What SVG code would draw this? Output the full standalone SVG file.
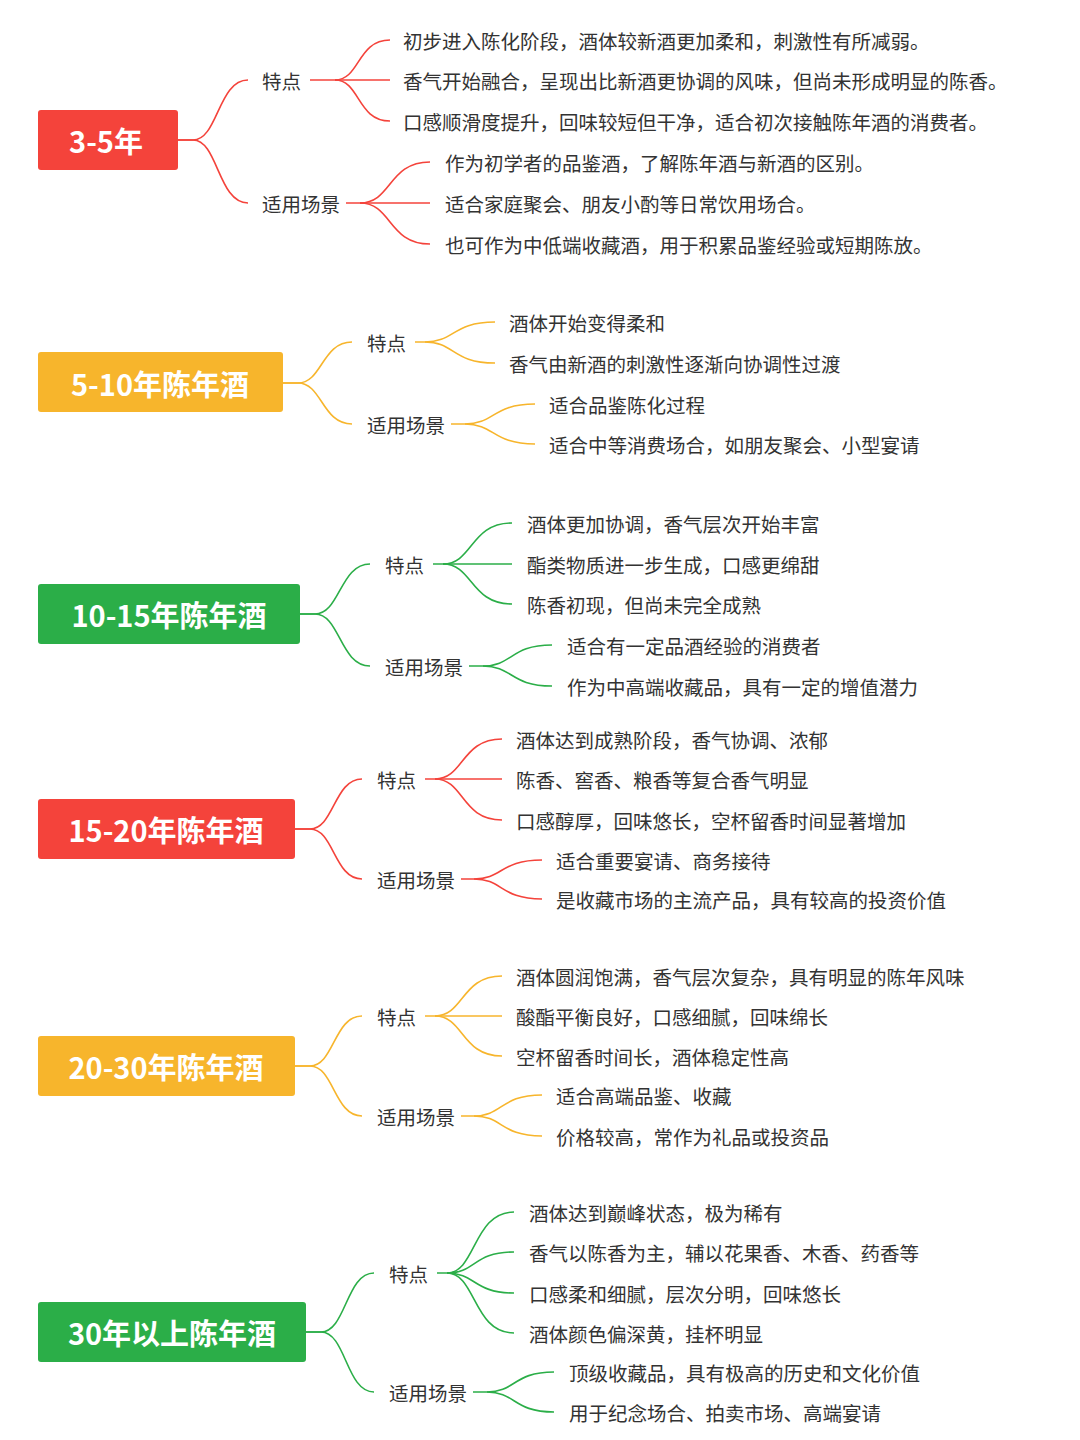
<svg xmlns="http://www.w3.org/2000/svg" width="1080" height="1440" viewBox="0 0 1080 1440">
<style>
text{font-family:"Noto Sans CJK SC","Noto Sans",sans-serif;dominant-baseline:central;fill:#333;font-size:19.5px}
.root{fill:#fff;font-size:29px;font-weight:bold;text-anchor:middle}
.red{stroke:#F4433B}.org{stroke:#F7B52C}.grn{stroke:#2BAE48}
path{fill:none;stroke-width:1.6}
</style>
<rect width="1080" height="1440" fill="#fff"/>
<g id="connectors">
<g class="red">
<path d="M178 140 H193 C218 140 218 80 248 80"/><path d="M178 140 H193 C218 140 218 203 248 203"/>
<path d="M310 80 H390"/><path d="M335 80 C360 80 357 40 390 40"/><path d="M335 80 C360 80 357 121 390 121"/>
<path d="M346 203 H430"/><path d="M360 203 C392 203 388 162 430 162"/><path d="M360 203 C392 203 388 244 430 244"/>
</g>
<g class="org">
<path d="M283 383 H298 C322 383 322 342 352 342"/><path d="M283 383 H298 C322 383 322 424 352 424"/>
<path d="M415 342 H425 C455 342 452 322 495 322"/><path d="M425 342 C455 342 452 363 495 363"/>
<path d="M451 424 H465 C495 424 492 404 535 404"/><path d="M465 424 C495 424 492 444 535 444"/>
</g>
<g class="grn">
<path d="M300 614 H315 C340 614 340 564 370 564"/><path d="M300 614 H315 C340 614 340 666 370 666"/>
<path d="M433 564 H512"/><path d="M443 564 C473 564 470 523 512 523"/><path d="M443 564 C473 564 470 604 512 604"/>
<path d="M469 666 H483 C513 666 510 645 552 645"/><path d="M483 666 C513 666 510 686 552 686"/>
</g>
<g class="red">
<path d="M295 829 H310 C334 829 334 779 362 779"/><path d="M295 829 H310 C334 829 334 879 362 879"/>
<path d="M425 779 H502"/><path d="M435 779 C464 779 461 739 502 739"/><path d="M435 779 C464 779 461 820 502 820"/>
<path d="M461 879 H474 C503 879 500 860 542 860"/><path d="M474 879 C503 879 500 899 542 899"/>
</g>
<g class="org">
<path d="M295 1066 H310 C334 1066 334 1016 362 1016"/><path d="M295 1066 H310 C334 1066 334 1116 362 1116"/>
<path d="M425 1016 H502"/><path d="M435 1016 C464 1016 461 976 502 976"/><path d="M435 1016 C464 1016 461 1056 502 1056"/>
<path d="M461 1116 H474 C503 1116 500 1095 542 1095"/><path d="M474 1116 C503 1116 500 1136 542 1136"/>
</g>
<g class="grn">
<path d="M306 1332 H321 C346 1332 346 1273 374 1273"/><path d="M306 1332 H321 C346 1332 346 1392 374 1392"/>
<path d="M437 1273 H447 C476 1273 473 1212 514 1212"/><path d="M447 1273 C476 1273 473 1252 514 1252"/><path d="M447 1273 C476 1273 473 1293 514 1293"/><path d="M447 1273 C476 1273 473 1333 514 1333"/>
<path d="M473 1392 H487 C516 1392 513 1372 554 1372"/><path d="M487 1392 C516 1392 513 1412 554 1412"/>
</g>
</g>
<g id="n1"><rect x="38" y="110" width="140" height="60" rx="3" fill="#F4433B"/><text class="root" x="106" y="140">3-5年</text>
<text x="262" y="80">特点</text><text x="262" y="203">适用场景</text>
<text x="403" y="40">初步进入陈化阶段，酒体较新酒更加柔和，刺激性有所减弱。</text>
<text x="403" y="80">香气开始融合，呈现出比新酒更协调的风味，但尚未形成明显的陈香。</text>
<text x="403" y="121">口感顺滑度提升，回味较短但干净，适合初次接触陈年酒的消费者。</text>
<text x="445" y="162">作为初学者的品鉴酒，了解陈年酒与新酒的区别。</text>
<text x="445" y="203">适合家庭聚会、朋友小酌等日常饮用场合。</text>
<text x="445" y="244">也可作为中低端收藏酒，用于积累品鉴经验或短期陈放。</text></g>
<g id="n2"><rect x="38" y="352" width="245" height="60" rx="3" fill="#F7B52C"/><text class="root" x="160" y="383">5-10年陈年酒</text>
<text x="367" y="342">特点</text><text x="367" y="424">适用场景</text>
<text x="509" y="322">酒体开始变得柔和</text><text x="509" y="363">香气由新酒的刺激性逐渐向协调性过渡</text>
<text x="549" y="404">适合品鉴陈化过程</text><text x="549" y="444">适合中等消费场合，如朋友聚会、小型宴请</text></g>
<g id="n3"><rect x="38" y="584" width="262" height="60" rx="3" fill="#2BAE48"/><text class="root" x="169" y="614">10-15年陈年酒</text>
<text x="385" y="564">特点</text><text x="385" y="666">适用场景</text>
<text x="527" y="523">酒体更加协调，香气层次开始丰富</text><text x="527" y="564">酯类物质进一步生成，口感更绵甜</text><text x="527" y="604">陈香初现，但尚未完全成熟</text>
<text x="567" y="645">适合有一定品酒经验的消费者</text><text x="567" y="686">作为中高端收藏品，具有一定的增值潜力</text></g>
<g id="n4"><rect x="38" y="799" width="257" height="60" rx="3" fill="#F4433B"/><text class="root" x="166" y="829">15-20年陈年酒</text>
<text x="377" y="779">特点</text><text x="377" y="879">适用场景</text>
<text x="516" y="739">酒体达到成熟阶段，香气协调、浓郁</text><text x="516" y="779">陈香、窖香、粮香等复合香气明显</text><text x="516" y="820">口感醇厚，回味悠长，空杯留香时间显著增加</text>
<text x="556" y="860">适合重要宴请、商务接待</text><text x="556" y="899">是收藏市场的主流产品，具有较高的投资价值</text></g>
<g id="n5"><rect x="38" y="1036" width="257" height="60" rx="3" fill="#F7B52C"/><text class="root" x="166" y="1066">20-30年陈年酒</text>
<text x="377" y="1016">特点</text><text x="377" y="1116">适用场景</text>
<text x="516" y="976">酒体圆润饱满，香气层次复杂，具有明显的陈年风味</text><text x="516" y="1016">酸酯平衡良好，口感细腻，回味绵长</text><text x="516" y="1056">空杯留香时间长，酒体稳定性高</text>
<text x="556" y="1095">适合高端品鉴、收藏</text><text x="556" y="1136">价格较高，常作为礼品或投资品</text></g>
<g id="n6"><rect x="38" y="1302" width="268" height="60" rx="3" fill="#2BAE48"/><text class="root" x="172" y="1332">30年以上陈年酒</text>
<text x="389" y="1273">特点</text><text x="389" y="1392">适用场景</text>
<text x="529" y="1212">酒体达到巅峰状态，极为稀有</text><text x="529" y="1252">香气以陈香为主，辅以花果香、木香、药香等</text><text x="529" y="1293">口感柔和细腻，层次分明，回味悠长</text><text x="529" y="1333">酒体颜色偏深黄，挂杯明显</text>
<text x="569" y="1372">顶级收藏品，具有极高的历史和文化价值</text><text x="569" y="1412">用于纪念场合、拍卖市场、高端宴请</text></g>
</svg>
